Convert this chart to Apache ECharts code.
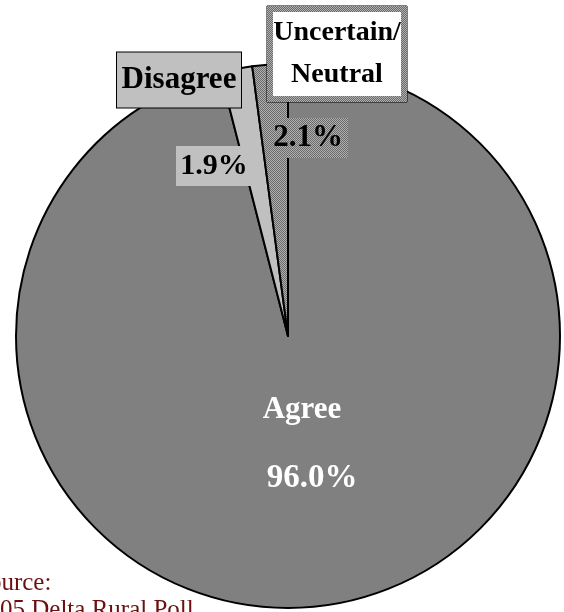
<!DOCTYPE html>
<html>
<head>
<meta charset="utf-8">
<script src="https://cdn.jsdelivr.net/npm/echarts@6/dist/echarts.min.js"></script>
<style>
  html, body { margin: 0; padding: 0; background: #fff; }
  #chart { width: 564px; height: 612px; }
</style>
</head>
<body>
<div id="chart"></div>
<script>
// Survey responses (percent of respondents)
const categories = ['Agree', 'Disagree', 'Uncertain/Neutral'];
const shares = [96.0, 1.9, 2.1];
const sourceLines = ['Source:', '2005 Delta Rural Poll'];

const SERIF = "'Liberation Serif', 'Times New Roman', serif";
const AGREE_GRAY = '#808080';
const DISAGREE_GRAY = '#c0c0c0';

// Fine pixel checkerboard used for the "uncertain" fill
function checker(w, h) {
  const c = document.createElement('canvas');
  c.width = w; c.height = h;
  const g = c.getContext('2d');
  g.fillStyle = '#b0b0b0';
  g.fillRect(0, 0, w, h);
  g.fillStyle = '#6a6a6a';
  for (let y = 0; y < h; y++) {
    for (let x = 0; x < w; x++) {
      if ((x + y) % 2 === 0) g.fillRect(x, y, 1, 1);
    }
  }
  return c;
}

// Label anchor points (pixels) for the value and name labels
const valueLabelPos = [[312, 478], [214, 166], [308, 138]];
const nameLabelPos = [[302, 410], [179, 80], [337, 54]];

const sliceColors = [
  AGREE_GRAY,
  DISAGREE_GRAY,
  { image: checker(8, 8), repeat: 'repeat' }
];

const boldText = { fontFamily: SERIF, fontWeight: 'bold', color: '#000' };

const valueLabelStyles = [
  Object.assign({}, boldText, { fontSize: 33, color: '#fff' }),
  Object.assign({}, boldText, {
    fontSize: 30, backgroundColor: DISAGREE_GRAY,
    width: 76, height: 40, lineHeight: 40, padding: 0
  }),
  Object.assign({}, boldText, {
    fontSize: 31, backgroundColor: { image: checker(80, 40) },
    width: 80, height: 40, lineHeight: 40, padding: 0
  })
];

const nameLabelStyles = [
  Object.assign({}, boldText, { fontSize: 31, color: '#fff' }),
  Object.assign({}, boldText, {
    fontSize: 31, backgroundColor: DISAGREE_GRAY,
    borderColor: '#000', borderWidth: 1,
    width: 124, height: 55, lineHeight: 55, padding: 0
  }),
  {
    backgroundColor: { image: checker(140, 96) },
    borderColor: '#000', borderWidth: 1, padding: 6,
    rich: {
      w: Object.assign({}, boldText, {
        fontSize: 28, backgroundColor: '#fff',
        width: 128, height: 42, lineHeight: 42, align: 'center'
      })
    }
  }
];

const valueData = shares.map((v, i) => ({
  name: categories[i],
  value: v,
  itemStyle: { color: sliceColors[i] },
  label: valueLabelStyles[i]
}));

const nameData = shares.map((v, i) => ({
  name: categories[i],
  value: v,
  label: nameLabelStyles[i]
}));

function nameText(p) {
  if (p.dataIndex === 2) {
    const cut = p.name.indexOf('/') + 1;
    return '{w|' + p.name.slice(0, cut) + '}\n{w|' + p.name.slice(cut) + '}';
  }
  return p.name;
}

const pieBase = {
  type: 'pie',
  center: [288, 336],
  radius: 272,
  startAngle: 90,
  clockwise: true,
  silent: true,
  avoidLabelOverlap: false,
  labelLine: { show: false },
  emphasis: { disabled: true }
};

const chart = echarts.init(document.getElementById('chart'), null, { renderer: 'canvas' });
chart.setOption({
  animation: false,
  backgroundColor: '#fff',
  series: [
    Object.assign({}, pieBase, {
      itemStyle: { borderColor: '#000', borderWidth: 2 },
      label: {
        show: true, position: 'inside',
        formatter: p => p.value.toFixed(1) + '%'
      },
      labelLayout: p => ({
        x: valueLabelPos[p.dataIndex][0], y: valueLabelPos[p.dataIndex][1],
        align: 'center', verticalAlign: 'middle'
      }),
      data: valueData
    }),
    Object.assign({}, pieBase, {
      itemStyle: { color: 'transparent', borderWidth: 0 },
      label: { show: true, position: 'inside', formatter: nameText },
      labelLayout: p => ({
        x: nameLabelPos[p.dataIndex][0], y: nameLabelPos[p.dataIndex][1],
        align: 'center', verticalAlign: 'middle'
      }),
      data: nameData
    })
  ],
  graphic: [{
    type: 'text',
    left: -25,
    top: 570,
    style: {
      text: sourceLines.join('\n'),
      font: '25px ' + SERIF,
      lineHeight: 27,
      fill: '#6b1010'
    }
  }]
});
</script>
</body>
</html>
